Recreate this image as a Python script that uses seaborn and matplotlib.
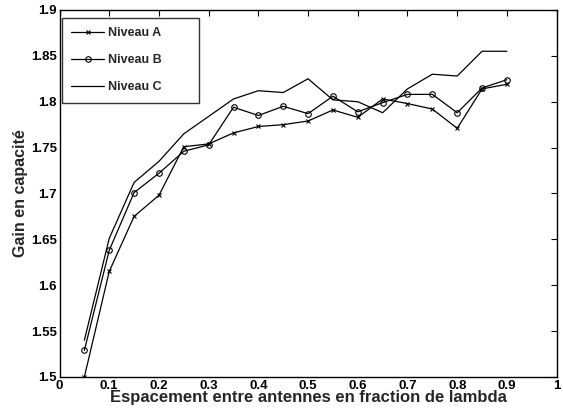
import numpy as np
import pandas as pd
import seaborn as sns
import matplotlib
matplotlib.use("Agg")
import matplotlib.pyplot as plt

x_vals = [0.05, 0.1, 0.15, 0.2, 0.25, 0.3, 0.35, 0.4, 0.45, 0.5,
          0.55, 0.6, 0.65, 0.7, 0.75, 0.8, 0.85, 0.9]
niveau_a = [1.500, 1.615, 1.675, 1.698, 1.751, 1.754, 1.766, 1.773, 1.775, 1.779,
            1.791, 1.783, 1.803, 1.798, 1.792, 1.771, 1.814, 1.819]
niveau_b = [1.529, 1.638, 1.701, 1.722, 1.746, 1.753, 1.794, 1.785, 1.795, 1.787,
            1.806, 1.789, 1.799, 1.808, 1.808, 1.788, 1.815, 1.824]
niveau_c = [1.540, 1.651, 1.712, 1.735, 1.765, 1.784, 1.803, 1.812, 1.810, 1.825,
            1.802, 1.800, 1.788, 1.814, 1.830, 1.828, 1.855, 1.855]
series_names = ["Niveau A", "Niveau B", "Niveau C"]
x_ticks = [0, 0.1, 0.2, 0.3, 0.4, 0.5, 0.6, 0.7, 0.8, 0.9, 1]
y_ticks = [1.5, 1.55, 1.6, 1.65, 1.7, 1.75, 1.8, 1.85, 1.9]

sns.set_style("white")
plt.rcParams['font.family'] = ['Liberation Sans', 'DejaVu Sans']
plt.rcParams['font.weight'] = 'bold'

fig = plt.figure(figsize=(5.63, 4.12), dpi=100)
ax = fig.add_axes([0.1057, 0.085, 0.883, 0.8908])

df = pd.DataFrame({"x": x_vals * 3,
                   "y": niveau_a + niveau_b + niveau_c,
                   "s": sum([[n] * len(x_vals) for n in series_names], [])})

marker_styles = {"Niveau A": dict(marker="x", markersize=2.8, markeredgewidth=0.8),
                 "Niveau B": dict(marker="o", markersize=4, markerfacecolor="none",
                                  markeredgewidth=0.8),
                 "Niveau C": dict(marker="None")}
handles = []
for name in series_names:
    sub = df[df["s"] == name]
    n_before = len(ax.lines)
    sns.lineplot(data=sub, x="x", y="y", ax=ax, color="black", linewidth=0.9,
                 legend=False)
    line = ax.lines[n_before]
    line.set_linestyle("-")
    line.set_label(name)
    for k, v in marker_styles[name].items():
        getattr(line, "set_" + k)(v)
    line.set_markeredgecolor("black")
    handles.append(line)

ax.set_xlim(0, 1)
ax.set_ylim(1.5, 1.9)
ax.set_xticks(x_ticks)
ax.set_xticklabels([f"{t:g}" for t in x_ticks])
ax.set_yticks(y_ticks)
ax.set_yticklabels([f"{t:g}" for t in y_ticks])
ax.tick_params(direction="in", length=4, width=0.8, top=True, right=True,
               labelsize=9.5, pad=2, colors="black")
for lab in ax.get_xticklabels() + ax.get_yticklabels():
    lab.set_fontweight("bold")
for sp in ax.spines.values():
    sp.set_color("black")
    sp.set_linewidth(1.0)
ax.set_xlabel("Espacement entre antennes en fraction de lambda", fontsize=12,
              fontweight="bold", labelpad=-1)
ax.set_ylabel("Gain en capacité", fontsize=11.5, fontweight="bold", labelpad=2)

leg = ax.legend(handles=handles, loc="upper left",
                bbox_to_anchor=(0.005, 0.5, 0.276, 0.478), mode="expand",
                borderaxespad=0, numpoints=1,
                frameon=True, fancybox=False, edgecolor="black", handlelength=2.6,
                labelspacing=1.2, borderpad=0.75, handletextpad=0.35,
                prop={"weight": "bold", "size": 9})
leg.get_frame().set_linewidth(1.0)

fig.savefig("out.png", dpi=100)
